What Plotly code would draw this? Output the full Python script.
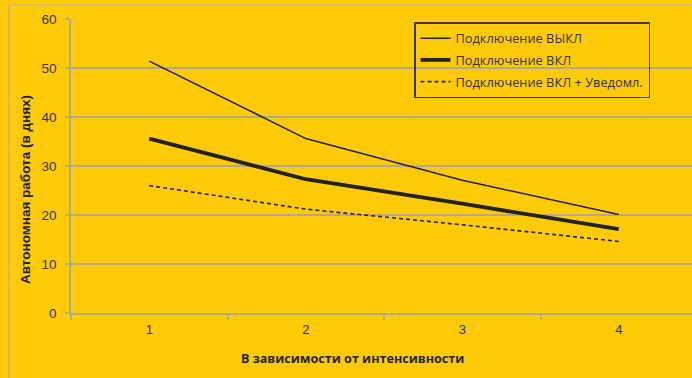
import plotly.graph_objects as go

# Intensity levels (category axis)
intensity = ["1", "2", "3", "4"]

# Battery life in days for each connection mode
conn_off = [51.4, 35.6, 27.1, 20.1]
conn_on = [35.6, 27.3, 22.3, 17.1]
conn_on_notify = [26.0, 21.2, 18.0, 14.6]

series_names = [
    "Подключение ВЫКЛ",
    "Подключение ВКЛ",
    "Подключение ВКЛ + Уведомл.",
]

y_ticks = [0, 10, 20, 30, 40, 50, 60]

BG = "#FFCA0A"
GRID = "#B2A98A"
INK = "#222222"

fig = go.Figure()
fig.add_trace(go.Scatter(x=intensity, y=conn_off, mode="lines", name=series_names[0],
                         legendgroup="a", line=dict(color=INK, width=1.5)))
fig.add_trace(go.Scatter(x=intensity, y=conn_on, mode="lines", name=series_names[1],
                         legendgroup="b", line=dict(color=INK, width=3.8)))
fig.add_trace(go.Scatter(x=intensity, y=conn_on_notify, mode="lines", name=series_names[2],
                         legendgroup="c", line=dict(color=INK, width=1.6, dash="4px,3px")))

fig.update_layout(
    width=692, height=378,
    margin=dict(l=71, r=0, t=19, b=65),
    paper_bgcolor=BG, plot_bgcolor=BG,
    font=dict(family="Liberation Sans, Arial, sans-serif", color="#333333"),
    showlegend=True,
    legend=dict(
        x=(414 - 71) / 621, y=1 - (22 - 19) / 294, xanchor="left", yanchor="top",
        bgcolor="rgba(0,0,0,0)", bordercolor="#3A3A3A", borderwidth=1.5,
        font=dict(family="Open Sans, sans-serif", size=12.8, color="#333333"),
        itemwidth=30, tracegroupgap=2,
    ),
)

fig.update_xaxes(
    type="category", range=[-0.5, 3.468],
    tickson="boundaries", ticks="outside", ticklen=5, tickcolor=GRID, tickwidth=1.5,
    showline=True, linecolor=GRID, linewidth=1.5,
    showgrid=False, zeroline=False,
    tickfont=dict(size=13, color="#333333"),
    ticklabelstandoff=4,
)
fig.update_yaxes(
    range=[0, 60], tickvals=y_ticks,
    ticks="outside", ticklen=4, tickcolor=GRID, tickwidth=1.5,
    showline=True, linecolor=GRID, linewidth=1.5,
    showgrid=True, gridcolor=GRID, gridwidth=1.5,
    zeroline=False,
    tickfont=dict(size=13.5, color="#333333"),
    ticklabelstandoff=6,
)

# Axis titles
fig.add_annotation(
    text="<b>В зависимости от интенсивности</b>",
    xref="paper", yref="paper", x=(352 - 71) / 621, y=-(358 - 313) / 294,
    xanchor="center", yanchor="middle", showarrow=False,
    font=dict(family="Open Sans, sans-serif", size=12.6, color="#222222"),
)
fig.add_annotation(
    text="<b>Автономная работа (в днях)</b>",
    xref="paper", yref="paper", x=-(71 - 25) / 621, y=(313 - 190) / 294,
    xanchor="center", yanchor="middle", textangle=-90, showarrow=False,
    font=dict(family="Liberation Sans, Arial, sans-serif", size=13.5, color="#222222"),
)

# Chart-area frame
fig.add_shape(
    type="rect", xref="paper", yref="paper",
    x0=-(71 - 9) / 621, x1=1.2, y0=-0.3, y1=1 + (19 - 5) / 294,
    line=dict(color="#B8B2A0", width=1.2), fillcolor="rgba(0,0,0,0)", layer="below",
)

fig.write_html("out.html")
